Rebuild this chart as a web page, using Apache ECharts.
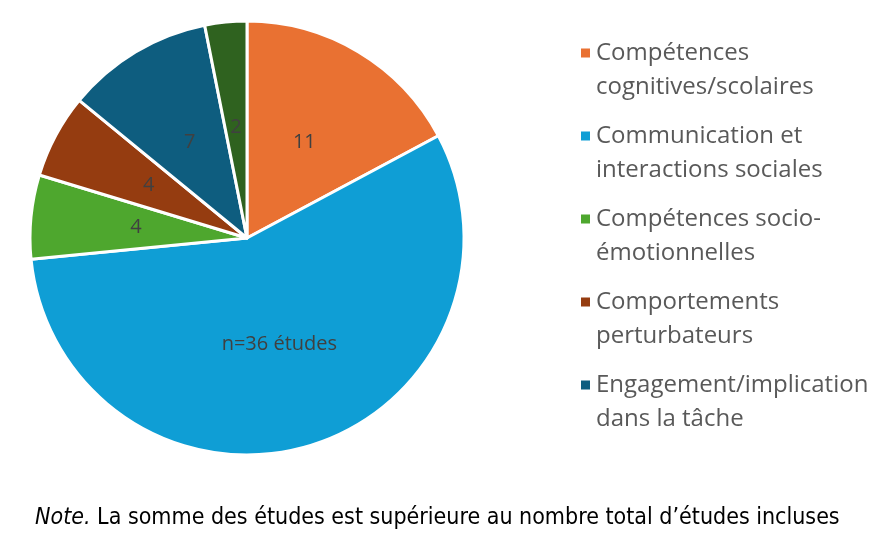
<!DOCTYPE html>
<html><head><meta charset="utf-8">
<script src="https://cdn.jsdelivr.net/npm/echarts@6/dist/echarts.min.js"></script>
<style>html,body{margin:0;padding:0;background:#fff}#c{width:880px;height:534px}</style>
</head><body><div id="c"></div>
<script>
const categories = ["Compétences cognitives/scolaires","Communication et interactions sociales","Compétences socio-émotionnelles","Comportements perturbateurs","Engagement/implication dans la tâche","Autres"];
const legendLabels = ["Compétences\ncognitives/scolaires","Communication et\ninteractions sociales","Compétences socio-\némotionnelles","Comportements\nperturbateurs","Engagement/implication\ndans la tâche"];
const values = [11,36,4,4,7,2];
const sliceLabels = ["11","n=36 études","4","4","7","2"];
const colors = ["#E97132","#0F9ED5","#4EA72E","#953C10","#0E5D7F","#2F621F"];
const noteText = "La somme des études est supérieure au nombre total d’études incluses";

const chart = echarts.init(document.getElementById('c'));
chart.setOption({
  animation:false,
  color: colors,
  legend:{
    orient:'vertical', left:576, top:31,
    data: categories.slice(0,5),
    icon:'path://M0,0L9,0L9,9L0,9Z M0,43L9,43', itemWidth:9, itemHeight:43, itemGap:15,
    itemStyle:{borderWidth:0},
    formatter: n => legendLabels[categories.indexOf(n)],
    textStyle:{fontFamily:'Open Sans', fontSize:24, color:'#595959', lineHeight:34, padding:[0,0,0,1]}
  },
  series:[{
    type:'pie', center:[247,238], radius:217, startAngle:90, clockwise:true,
    avoidLabelOverlap:false, minShowLabelAngle:0,
    itemStyle:{borderColor:'#fff', borderWidth:3},
    label:{show:true, position:'inside', formatter: p => sliceLabels[p.dataIndex],
      fontFamily:'Open Sans', fontSize:20, color:'#404040'},
    labelLine:{show:false},
    labelLayout:{hideOverlap:false},
    emphasis:{disabled:true},
    data: categories.map((c,i)=>({name:c, value:values[i]}))
  }],
  graphic:[{
    type:'text', left:35, top:507,
    style:{
      text:'{i|Note.} ' + noteText,
      fontFamily:'DejaVu Sans Condensed', fontSize:23, fill:'#000',
      rich:{i:{fontStyle:'italic', fontFamily:'DejaVu Sans Condensed', fontSize:23}}
    }
  }]
});
</script></body></html>
